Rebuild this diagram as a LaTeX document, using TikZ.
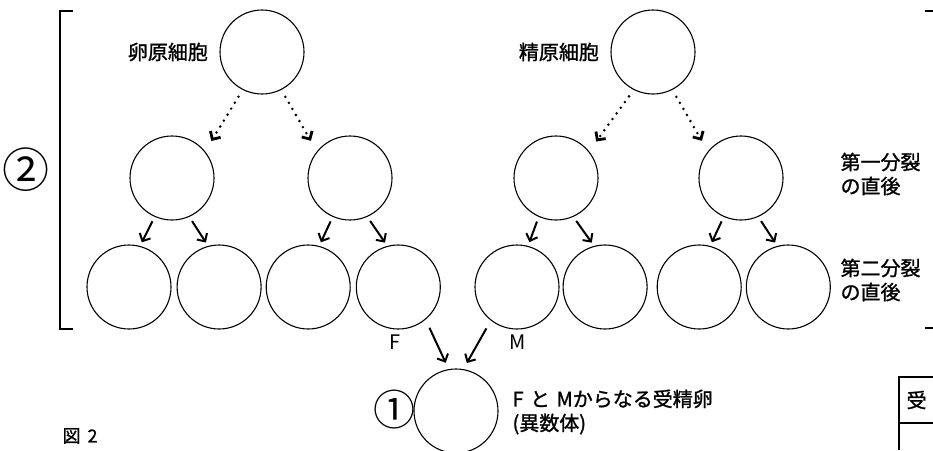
\documentclass[tikz,border=0pt]{standalone}
\usepackage{fontspec}
\newfontfamily\jp[FakeBold=1.2]{Noto Sans CJK JP}
\newfontfamily\jplight{Noto Sans CJK JP}
\usetikzlibrary{arrows.meta,positioning}

\begin{document}
\begin{tikzpicture}[x=1pt,y=-1pt,>={Straight Barb[length=6pt,width=12pt]},line width=1.1pt,
  main node/.style={circle,draw,minimum size=84pt,inner sep=0pt},
  label node/.style={font=\jp\fontsize{20}{24}\selectfont,inner sep=0pt,align=left},
  dot arrow/.style={->,line width=2.8pt,dash pattern=on 0pt off 7pt,line cap=round,shorten <=8pt,shorten >=12pt},
  cut arrow/.style={->,line width=2pt,shorten <=5pt,shorten >=4pt},
  join arrow/.style={->,line width=2pt,shorten <=9pt,shorten >=7pt}]
  \useasboundingbox (0,0) rectangle (933,450);

  % oogonium side
  \node[main node] (1) at (262,52) {};
  \node[main node] (2) at (172,178) {};
  \node[main node] (3) at (350,178) {};
  \node[main node] (4) at (129,287) {};
  \node[main node] (5) [right=5pt of 4] {};
  \node[main node] (6) [right=4pt of 5] {};
  \node[main node] (7) [right=5pt of 6] {};

  % spermatogonium side
  \node[main node] (8) at (653,52) {};
  \node[main node] (9) at (556,178) {};
  \node[main node] (10) at (741,178) {};
  \node[main node] (11) at (517,287) {};
  \node[main node] (12) [right=3pt of 11] {};
  \node[main node] (13) [right=9pt of 12] {};
  \node[main node] (14) [right=4pt of 13] {};

  % zygote
  \node[main node] (15) at (456,411) {};

  \node[label node] (t1) [left=11pt of 1] {卵原細胞};
  \node[label node] (t8) [left=11pt of 8] {精原細胞};
  \node[label node,anchor=west] (t2) at (840,174) {第一分裂\\の直後};
  \node[label node,anchor=west] (t3) at (840,280) {第二分裂\\の直後};
  \node[label node,anchor=west] (t4) at (512,412) {F\hspace{2pt} と\hspace{2pt} Mからなる受精卵\\(異数体)};
  \node[font=\jplight\fontsize{20}{20}\selectfont] (f) at (395,342) {F};
  \node[font=\jplight\fontsize{20}{20}\selectfont] (m) at (518,342) {M};
  \node[font=\jplight\fontsize{42}{42}\selectfont,inner sep=0pt] (c1) at (394,410) {①};
  \node[font=\jplight\fontsize{47}{47}\selectfont,inner sep=0pt] (c2) at (26,170) {②};
  \node[font=\jp\fontsize{18}{18}\selectfont,anchor=west,inner sep=0pt] (fig) at (62,436) {図\hspace{3pt} 2};

  \path
    (1.243) edge[dot arrow] (2.39)
    (1.297) edge[dot arrow] (3.141)
    (8.243) edge[dot arrow] (9.39)
    (8.297) edge[dot arrow] (10.141)

    (2.246) edge[cut arrow] (4.75)
    (2.294) edge[cut arrow] (5.105)
    (3.246) edge[cut arrow] (6.75)
    (3.294) edge[cut arrow] (7.105)
    (9.246) edge[cut arrow] (11.75)
    (9.294) edge[cut arrow] (12.105)
    (10.246) edge[cut arrow] (13.75)
    (10.294) edge[cut arrow] (14.105)

    (7.310) edge[join arrow] (15.100)
    (11.232) edge[join arrow] (15.80)
  ;

  % bracket and table edge
  \draw[line width=1.4pt] (73,11) -- (60,11) -- (60,329) -- (73,329);
  \draw (925,11) -- (933,11);
  \draw (925,328) -- (933,328);
  \draw[line width=1.3pt] (899,450) -- (899,377) -- (933,377);
  \draw (899,423) -- (933,423);
  \node[label node,anchor=west] (t5) at (906,400) {受};
\end{tikzpicture}
\end{document}
